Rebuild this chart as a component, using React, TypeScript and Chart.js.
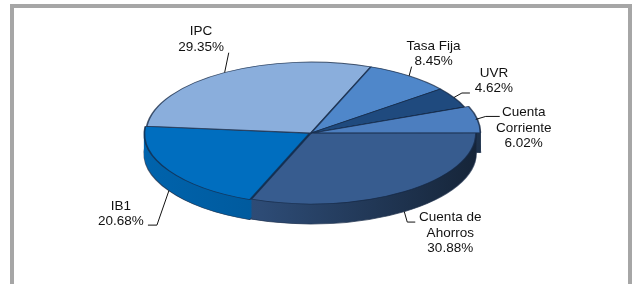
import React, { useEffect, useRef } from 'react';
import { Chart, registerables } from 'chart.js';

Chart.register(...registerables);

// ---- data ----
const categories = ['Cuenta de Ahorros', 'IB1', 'IPC', 'Tasa Fija', 'UVR', 'Cuenta Corriente'];
const labelLines = [['Cuenta de', 'Ahorros'], ['IB1'], ['IPC'], ['Tasa Fija'], ['UVR'], ['Cuenta', 'Corriente']];
const shares = [30.88, 20.68, 29.35, 8.45, 4.62, 6.02];
const topColors = ['#375c8f', '#006ebf', '#8aaedc', '#4f87ca', '#1f4a7e', '#4c7ebf'];
const explode = [0, 6, 0, 0, 0, 9];

// ---- layout (3D projection of the pie) ----
const CX = 311;
const CY = 133;
const RX = 165;
const RY = 71;
const DEPTH = 20;
const EDGE = 'rgba(22,40,68,0.75)';
// text centre offset from the slice anchor, leader end offset from text centre, elbow length
const textOffsets = [[46, 21.5], [-48, 23], [-23.6, -33], [24.5, -22], [40, -16.5], [48, 8.5]];
const leaderEnds = [[-35, -11], [27, 11.5], [27.7, 13.2], [-22, 12.7], [-24, 12], [-24, -11.5]];
const elbows = [-8, 9, 0, 0, -8, -14];
const FONT = '13.5px "Liberation Sans", Arial, sans-serif';
const LINE_H = 15.5;

function shade(hex: string, f: number) {
  const n = parseInt(hex.slice(1), 16);
  const r = Math.round(((n >> 16) & 255) * f);
  const g = Math.round(((n >> 8) & 255) * f);
  const b = Math.round((n & 255) * f);
  return `rgb(${r},${g},${b})`;
}

function squash(ctx: CanvasRenderingContext2D, a0: any) {
  const r = a0.outerRadius;
  ctx.translate(CX, CY);
  ctx.scale(RX / r, RY / r);
  ctx.translate(-a0.x, -a0.y);
}

const pie3d = {
  id: 'pie3d',
  beforeDatasetsDraw(chart: any) {
    const ctx: CanvasRenderingContext2D = chart.ctx;
    const arcs = chart.getDatasetMeta(0).data;
    const a0 = arcs[0];
    const r = a0.outerRadius;
    for (let d = DEPTH; d >= 1; d--) {
      ctx.save();
      ctx.translate(0, d);
      squash(ctx, a0);
      arcs.forEach((arc: any, i: number) => {
        const g = ctx.createLinearGradient(a0.x - r, 0, a0.x + r, 0);
        g.addColorStop(0, shade(topColors[i], 0.9));
        g.addColorStop(0.35, shade(topColors[i], 0.82));
        g.addColorStop(1, shade(topColors[i], 0.4));
        const proxy = Object.create(arc);
        proxy.options = {
          ...arc.options,
          backgroundColor: g,
          borderColor: d === DEPTH ? EDGE : g,
          borderWidth: d === DEPTH ? 1.5 : 0.6,
        };
        proxy.draw(ctx);
      });
      ctx.restore();
    }
    ctx.save();
    squash(ctx, a0);
    arcs.forEach((arc: any) => arc.draw(ctx));
    ctx.restore();
    return false;
  },
  afterDraw(chart: any) {
    const ctx: CanvasRenderingContext2D = chart.ctx;
    const arcs = chart.getDatasetMeta(0).data;
    const a0 = arcs[0];
    const r = a0.outerRadius;
    const sx = RX / r;
    const sy = RY / r;
    ctx.save();
    ctx.font = FONT;
    ctx.fillStyle = '#111';
    ctx.strokeStyle = '#111';
    ctx.lineWidth = 1;
    ctx.textAlign = 'center';
    ctx.textBaseline = 'middle';
    arcs.forEach((arc: any, i: number) => {
      const mid = (arc.startAngle + arc.endAngle) / 2;
      const o = (arc.options.offset || 0) / 4;
      const px = Math.cos(mid) * (r + o);
      const py = Math.sin(mid) * (r + o);
      const ax = CX + sx * px;
      let ay = CY + sy * py;
      if (Math.sin(mid) > 0.2) ay += DEPTH;
      const tx = ax + textOffsets[i][0];
      const ty = ay + textOffsets[i][1];
      const ex = tx + leaderEnds[i][0];
      const ey = ty + leaderEnds[i][1];
      ctx.beginPath();
      ctx.moveTo(ax, ay);
      if (elbows[i] !== 0) {
        ctx.lineTo(ex + elbows[i], ey);
      }
      ctx.lineTo(ex, ey);
      ctx.stroke();
      const lines = [...labelLines[i], `${shares[i].toFixed(2)}%`];
      const top = ty - ((lines.length - 1) * LINE_H) / 2;
      lines.forEach((t, k) => ctx.fillText(t, tx, top + k * LINE_H));
    });
    ctx.restore();
  },
};

export default function App() {
  const ref = useRef<HTMLCanvasElement>(null);
  useEffect(() => {
    const chart = new Chart(ref.current as HTMLCanvasElement, {
      type: 'pie',
      data: {
        labels: categories,
        datasets: [
          {
            data: shares,
            backgroundColor: topColors,
            borderColor: EDGE,
            borderWidth: 1.5,
            offset: explode,
          },
        ],
      },
      options: {
        responsive: false,
        animation: false,
        events: [],
        rotation: 90,
        layout: { padding: 0 },
        plugins: { legend: { display: false }, tooltip: { enabled: false } },
      },
      plugins: [pie3d],
    } as any);
    return () => chart.destroy();
  }, []);
  return (
    <div style={{ position: 'fixed', left: 0, top: 0, width: 632, height: 284, background: '#fff', overflow: 'hidden' }}>
      <div
        style={{
          position: 'absolute',
          left: 10,
          top: 4,
          width: 614,
          height: 300,
          borderTop: '4px solid #a6a6a6',
          borderLeft: '4px solid #a6a6a6',
          borderRight: '4px solid #a6a6a6',
        }}
      />
      <canvas ref={ref} width={632} height={284} style={{ position: 'absolute', left: 0, top: 0, width: 632, height: 284 }} />
    </div>
  );
}
